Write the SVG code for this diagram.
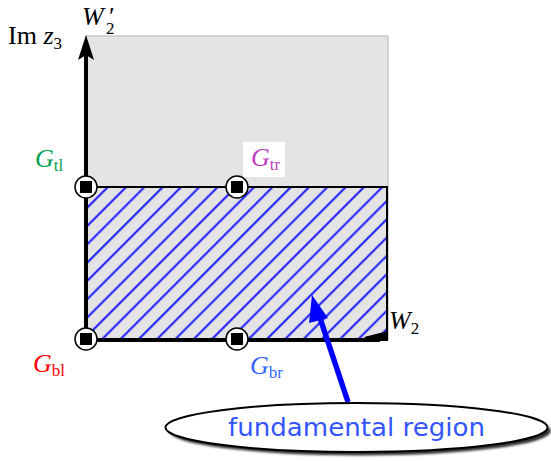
<svg xmlns="http://www.w3.org/2000/svg" width="551" height="462" viewBox="0 0 551 462">
<defs>
<pattern id="hatch" patternUnits="userSpaceOnUse" width="12.94" height="20" patternTransform="rotate(45)">
<line x1="1.5" y1="-2" x2="1.5" y2="22" stroke="#0000ff" stroke-width="1.8"/>
</pattern>
<filter id="shadow" x="-10%" y="-30%" width="120%" height="160%">
<feGaussianBlur stdDeviation="1.2"/>
</filter>
</defs>
<style>
.math{font-family:"Liberation Serif","DejaVu Serif",serif;font-size:26px;}
.it{font-style:italic;}
.sub{font-size:17px;}
.node circle{fill:#fff;stroke:#000;stroke-width:1.5;}
.node rect{fill:#000;}
</style>
<rect x="86" y="36" width="302" height="304" fill="#e4e4e4" stroke="#c8c8c8" stroke-width="1.5"/>
<rect x="86" y="187" width="301" height="153" fill="url(#hatch)" stroke="#000" stroke-width="2"/>
<g id="axes">
<line x1="86" y1="340" x2="380" y2="340" stroke="#000" stroke-width="4"/>
<polygon points="364,337 388,331 388,341 370,341" fill="#000"/>
<line x1="86" y1="342" x2="86" y2="50" stroke="#000" stroke-width="4"/>
<polygon points="86,35 94,60 86,55 78,60" fill="#000"/>
</g>
<rect x="243" y="142" width="42" height="35" fill="#fff"/>
<g id="node-tl" class="node"><circle cx="86" cy="187" r="11"/><rect x="80" y="181" width="12" height="12"/></g>
<g id="node-tr" class="node"><circle cx="237" cy="187" r="11"/><rect x="231" y="181" width="12" height="12"/></g>
<g id="node-bl" class="node"><circle cx="86" cy="339" r="11"/><rect x="80" y="333" width="12" height="12"/></g>
<g id="node-br" class="node"><circle cx="237" cy="339" r="11"/><rect x="231" y="333" width="12" height="12"/></g>
<text class="math" x="8" y="44">Im <tspan class="it">z</tspan><tspan class="sub" dy="5">3</tspan></text>
<text class="math it" x="82" y="25">W</text>
<text class="math" x="109" y="25" font-size="18px">′</text>
<text class="math sub" x="106" y="34">2</text>
<text class="math" x="389" y="329"><tspan class="it">W</tspan><tspan class="sub" dy="5">2</tspan></text>
<text class="math" x="35" y="167" fill="#00a050"><tspan class="it">G</tspan><tspan class="sub" dy="4">tl</tspan></text>
<text class="math" x="251" y="166" fill="#c040c0"><tspan class="it">G</tspan><tspan class="sub" dy="4">tr</tspan></text>
<text class="math" x="33" y="372" fill="#ff0000"><tspan class="it">G</tspan><tspan class="sub" dy="4">bl</tspan></text>
<text class="math" x="250" y="374" fill="#3366ff"><tspan class="it">G</tspan><tspan class="sub" dy="4">br</tspan></text>
<g id="connectors">
<line x1="348" y1="402" x2="318" y2="312" stroke="#0000ff" stroke-width="5.5"/>
<polygon points="312,295 328,318 309,323" fill="#0000ff"/>
</g>
<g id="label-fundamental">
<ellipse cx="360" cy="431" rx="191" ry="24.5" fill="#333" filter="url(#shadow)"/>
<ellipse cx="356.5" cy="427.5" rx="191" ry="24.5" fill="#fff" stroke="#000" stroke-width="2"/>
<text x="228" y="436" textLength="257" lengthAdjust="spacingAndGlyphs" font-family="'DejaVu Sans','Liberation Sans',sans-serif" font-size="25" fill="#3355ff">fundamental region</text>
</g>
</svg>
